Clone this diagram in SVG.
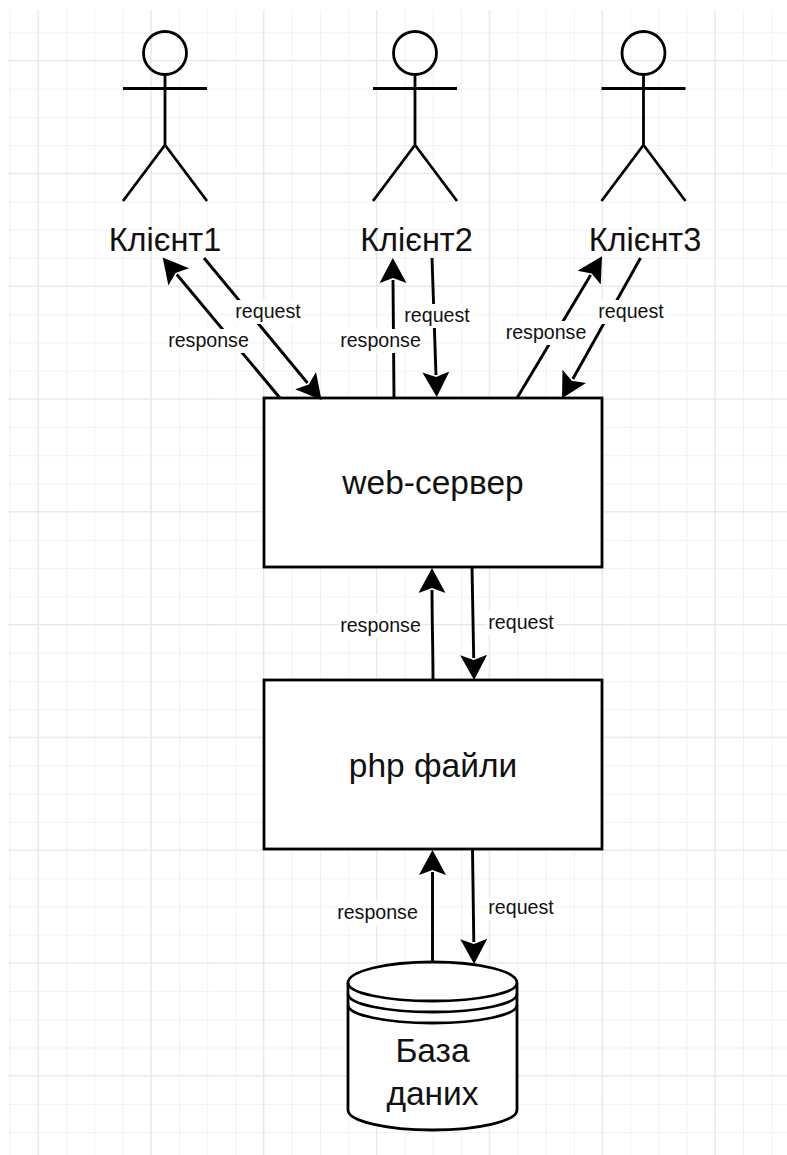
<svg xmlns="http://www.w3.org/2000/svg" width="787" height="1155" viewBox="0 0 787 1155">
<style>
text{font-family:"Liberation Sans",Arial,sans-serif;fill:#111;text-anchor:middle}
.big{font-size:32.5px}
.mid{font-size:33.5px}
.sm{font-size:19.6px}
.s{fill:none;stroke:#000;stroke-width:2.8}
.box{fill:#fff;stroke:#000;stroke-width:2.8}
.c{fill:none;stroke:#000;stroke-width:2.9;marker-end:url(#ah)}
.bg{fill:#fff}
</style>
<defs>
<marker id="ah" markerUnits="userSpaceOnUse" markerWidth="30" markerHeight="30" refX="3" refY="15" orient="auto" viewBox="0 0 30 30">
<path d="M0,1.500 L5,15 L0,28.500 L25,15 Z" fill="#000" stroke="none"/>
</marker>
<pattern id="minor" patternUnits="userSpaceOnUse" x="9.8" y="32.3" width="28.2" height="28.2">
<path d="M0.5,0V28.2M0,0.5H28.2" fill="none" stroke="#f1f1f1" stroke-width="1"/>
</pattern>
<pattern id="major" patternUnits="userSpaceOnUse" x="37.5" y="60" width="112.8" height="112.8">
<path d="M0.5,0V112.8M0,0.5H112.8" fill="none" stroke="#e6e6e6" stroke-width="1.2"/>
</pattern>
</defs>
<rect width="787" height="1155" fill="#fff"/>
<g id="grid">
<rect x="8" y="10" width="779" height="1145" fill="url(#minor)"/>
<rect x="8" y="10" width="779" height="1145" fill="url(#major)"/>
</g>
<g id="client1">
<circle class="s" cx="165" cy="53" r="21.5"/>
<path class="s" d="M165,74.500V145M123,88.500H207M123,201L165,145L207,201"/>
<text class="big" x="165" y="251">Клієнт1</text>
</g>
<g id="client2">
<circle class="s" cx="415" cy="53" r="21.5"/>
<path class="s" d="M415,74.500V145M373,88.500H457M373,201L415,145L457,201"/>
<text class="big" x="416.500" y="251">Клієнт2</text>
</g>
<g id="client3">
<circle class="s" cx="643.500" cy="53" r="21.5"/>
<path class="s" d="M643.500,74.500V145M601.500,88.500H685.500M601.500,201L643.500,145L685.500,201"/>
<text class="big" x="645" y="251">Клієнт3</text>
</g>
<g id="web-server">
<rect class="box" x="264" y="398" width="338" height="169"/>
<text class="mid" x="433" y="494">web-сервер</text>
</g>
<g id="php-files">
<rect class="box" x="264" y="680" width="338" height="169"/>
<text class="mid" x="433" y="777">php файли</text>
</g>
<g id="database">
<path class="box" d="M348,983C348,971 386,962 432.500,962C479,962 517,971 517,983V1110C517,1121 479,1130 432.500,1130C386,1130 348,1121 348,1110Z"/>
<path class="s" d="M348,983C348,993 386,1001 432.500,1001C479,1001 517,993 517,983M348,994C348,1004 386,1012 432.500,1012C479,1012 517,1004 517,994M348,1005C348,1015 386,1023 432.500,1023C479,1023 517,1015 517,1005"/>
<text class="mid" x="432.500" y="1062">База</text>
<text class="mid" x="432.500" y="1105">даних</text>
</g>
<g id="connectors">
<path class="c" d="M280,398L176.800,274.500"/>
<path class="c" d="M204,258L307.500,383"/>
<path class="c" d="M394,398L393,280"/>
<path class="c" d="M432,258L436,375"/>
<path class="c" d="M517,398L590.700,275.100"/>
<path class="c" d="M640.500,258L572.800,379"/>
<path class="c" d="M433,680C433,650 432,620 432,590"/>
<path class="c" d="M472,567L473.700,658"/>
<path class="c" d="M432.500,962V872"/>
<path class="c" d="M472.500,849L473.800,942"/>
</g>
<g id="connector-labels">
<rect class="bg" x="234" y="300" width="69" height="24"/><text class="sm" x="268" y="318">request</text>
<rect class="bg" x="167" y="329" width="83" height="24"/><text class="sm" x="208.500" y="347">response</text>
<rect class="bg" x="339" y="329" width="83" height="24"/><text class="sm" x="380.500" y="347">response</text>
<rect class="bg" x="403" y="304" width="69" height="24"/><text class="sm" x="437" y="322">request</text>
<rect class="bg" x="505" y="321" width="83" height="24"/><text class="sm" x="546" y="339">response</text>
<rect class="bg" x="597" y="300" width="69" height="24"/><text class="sm" x="631" y="318">request</text>
<rect class="bg" x="339" y="614" width="83" height="24"/><text class="sm" x="380.500" y="632">response</text>
<rect class="bg" x="487" y="611" width="69" height="24"/><text class="sm" x="521" y="629">request</text>
<rect class="bg" x="336" y="901" width="83" height="24"/><text class="sm" x="377.500" y="919">response</text>
<rect class="bg" x="487" y="896" width="69" height="24"/><text class="sm" x="521" y="914">request</text>
</g>
</svg>
